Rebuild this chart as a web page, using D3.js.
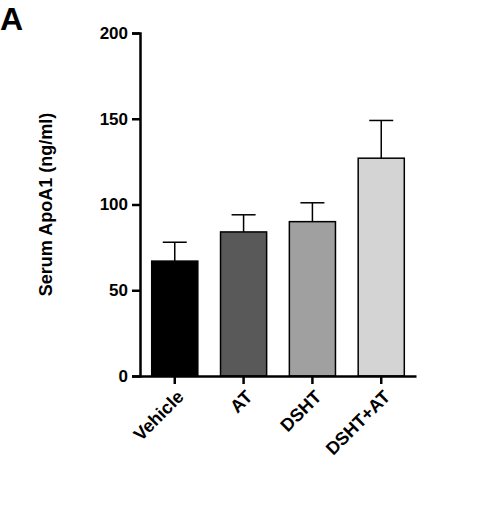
<!DOCTYPE html>
<html><head><meta charset="utf-8">
<script src="https://cdn.jsdelivr.net/npm/d3@7"></script>
<style>body{margin:0;background:#fff}text{font-family:Arial,"Liberation Sans",sans-serif}</style>
</head><body>
<svg id="chart" width="484" height="508"></svg>
<script>
var categories = ['Vehicle', 'AT', 'DSHT', 'DSHT+AT'];
var means = [67, 84, 90, 127];
var errors = [11, 10, 11, 22];
var colors = ['#000000', '#595959', '#a0a0a0', '#d4d4d4'];
var yTicks = [0, 50, 100, 150, 200];

var svg = d3.select('#chart');
var mLeft = 140, mRight = 416, mTop = 33, mBottom = 376;

var x = d3.scaleBand().domain(categories).range([mLeft, mRight]).paddingInner(0.33).paddingOuter(0.17);
var y = d3.scaleLinear().domain([0, 200]).range([mBottom, mTop]);

var g = svg.append('g');

categories.forEach(function(c, i) {
    var cx = x(c) + x.bandwidth() / 2;
    g.append('line').attr('x1', cx).attr('x2', cx)
        .attr('y1', y(means[i])).attr('y2', y(means[i] + errors[i]))
        .attr('stroke', '#000').attr('stroke-width', 1.5);
    g.append('line').attr('x1', cx - 12).attr('x2', cx + 12)
        .attr('y1', y(means[i] + errors[i])).attr('y2', y(means[i] + errors[i]))
        .attr('stroke', '#000').attr('stroke-width', 1.5);
    g.append('rect').attr('x', x(c)).attr('y', y(means[i]))
        .attr('width', x.bandwidth()).attr('height', y(0) - y(means[i]))
        .attr('fill', colors[i]).attr('stroke', '#000').attr('stroke-width', 1.5);
});

var yAxis = svg.append('g').attr('transform', 'translate(' + mLeft + ',0)')
    .call(d3.axisLeft(y).tickValues(yTicks).tickSize(8).tickPadding(4));
yAxis.selectAll('text').style('font-size', '17px').style('font-weight', 'bold').attr('fill', '#000');
yAxis.select('.domain').attr('stroke-width', 2.5);
yAxis.selectAll('.tick line').attr('stroke-width', 2.5);

var xAxis = svg.append('g').attr('transform', 'translate(0,' + mBottom + ')')
    .call(d3.axisBottom(x).tickSize(8).tickSizeOuter(0));
xAxis.select('.domain').attr('stroke-width', 2.5);
xAxis.selectAll('.tick line').attr('stroke-width', 2.5);
xAxis.selectAll('text').style('font-size', '18px').style('font-weight', 'bold').attr('fill', '#000')
    .attr('text-anchor', 'end').attr('dy', null).attr('y', 0)
    .attr('transform', 'translate(10,22) rotate(-45)');

svg.append('text').attr('transform', 'translate(52,' + ((mTop + mBottom) / 2) + ') rotate(-90)')
    .attr('text-anchor', 'middle').style('font-size', '18px').style('font-weight', 'bold')
    .text('Serum ApoA1 (ng/ml)');

svg.append('text').attr('x', 0).attr('y', 30).style('font-size', '32px').style('font-weight', 'bold').text('A');
</script>
</body></html>
